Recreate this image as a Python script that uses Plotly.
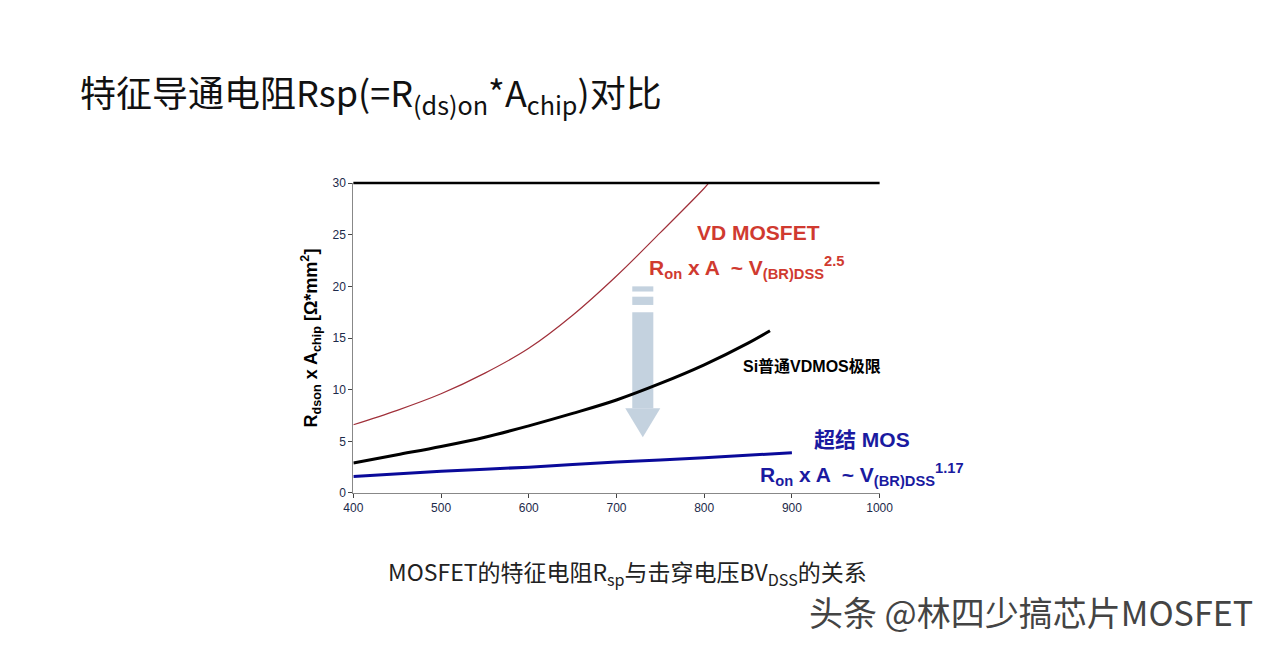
import plotly.graph_objects as go

volts_red = [400, 450, 500, 550, 600, 650, 700, 750, 800, 805]
red = [6.6, 8.0, 9.6, 11.6, 14.0, 17.2, 21.0, 25.2, 29.5, 30.0]
volts_black = [400, 450, 500, 550, 600, 650, 700, 750, 800, 850, 875]
black = [2.9, 3.7, 4.5, 5.4, 6.5, 7.7, 9.0, 10.6, 12.4, 14.5, 15.7]
volts_blue = [400, 500, 600, 700, 800, 900]
blue = [1.6, 2.1, 2.5, 3.0, 3.4, 3.9]
xticks = [400, 500, 600, 700, 800, 900, 1000]
yticks = [0, 5, 10, 15, 20, 25, 30]

F = "Liberation Sans, Arial, Noto Sans CJK SC"
fig = go.Figure()
fig.add_trace(go.Scatter(x=volts_red, y=red, mode="lines", line=dict(color="#a0303a", width=1.2, shape="spline")))
fig.add_trace(go.Scatter(x=volts_black, y=black, mode="lines", line=dict(color="black", width=3, shape="spline")))
fig.add_trace(go.Scatter(x=volts_blue, y=blue, mode="lines", line=dict(color="#0a0a9a", width=3, shape="spline")))

ann = []
def A(x, y, t, size, color, **k):
    d = dict(x=x, y=y, text=t, showarrow=False, font=dict(family=F, size=size, color=color))
    d.update(k); ann.append(d)

A(862, 25.2, "<b>VD MOSFET</b>", 21, "#d03a30")
A(848, 21.8, "<b>R<sub>on</sub> x A  ~ V<sub>(BR)DSS</sub><sup>2.5</sup></b>", 21, "#d03a30")
A(842, 12.3, "<b>Si普通VDMOS极限</b>", 16, "black", xanchor="left")
A(980, 5.2, "<b>超结 MOS</b>", 21, "#1a1aa0")
A(980, 1.8, "<b>R<sub>on</sub> x A  ~ V<sub>(BR)DSS</sub><sup>1.17</sup></b>", 21, "#1a1aa0")
A(950, -4.0, "<b>电压</b>", 15, "black", xanchor="right")
ann.append(dict(xref="paper", yref="paper", x=0.048, y=0.925, xanchor="left", showarrow=False,
                text="特征导通电阻Rsp(=R<sub>(ds)on</sub>*A<sub>chip</sub>)对比", font=dict(family="Noto Sans CJK SC", size=36, color="#111")))
ann.append(dict(xref="paper", yref="paper", x=0.485, y=0.095, showarrow=False,
                text="MOSFET的特征电阻R<sub>sp</sub>与击穿电压BV<sub>DSS</sub>的关系", font=dict(family="Noto Sans CJK SC", size=23, color="#222")))
ann.append(dict(xref="paper", yref="paper", x=0.985, y=0.025, xanchor="right", showarrow=False,
                text="头条 @林四少搞芯片MOSFET", font=dict(family="Noto Sans CJK SC", size=34, color="#444")))

fig.update_layout(
    width=1280, height=653, margin=dict(l=0, r=0, t=0, b=0),
    paper_bgcolor="white", plot_bgcolor="white", showlegend=False, annotations=ann,
    xaxis=dict(domain=[0.267, 0.686], range=[400, 1000], tickvals=xticks, ticks="outside", ticklen=4,
               showgrid=False, zeroline=False, showline=True, linecolor="#888",
               tickfont=dict(family=F, size=12, color="#1c2a4a"), tickprefix="<b>", ticksuffix="</b>"),
    yaxis=dict(domain=[0.252, 0.737], range=[0, 30], tickvals=yticks, ticks="outside", ticklen=4,
               showgrid=False, zeroline=False, showline=True, linecolor="#888",
               tickfont=dict(family=F, size=12, color="#1c2a4a"), tickprefix="<b>", ticksuffix="</b>",
               title=dict(text="<b>R<sub>dson</sub> x A<sub>chip</sub> [Ω*mm<sup>2</sup>]</b>", font=dict(family=F, size=18, color="black"), standoff=10)),
)
arrow = "rgba(190,205,220,0.9)"
fig.add_shape(type="rect", xref="x", yref="y", x0=718, x1=742, y0=8.2, y1=17.5, fillcolor=arrow, line_width=0, layer="below")
fig.add_shape(type="rect", xref="x", yref="y", x0=718, x1=742, y0=18.2, y1=19.0, fillcolor=arrow, line_width=0, layer="below")
fig.add_shape(type="rect", xref="x", yref="y", x0=718, x1=742, y0=19.5, y1=20.0, fillcolor=arrow, line_width=0, layer="below")
fig.add_shape(type="path", xref="x", yref="y", path="M 710 8.2 L 750 8.2 L 730 5.4 Z", fillcolor=arrow, line_width=0, layer="below")
fig.add_shape(type="line", xref="paper", yref="paper", x0=0.267, x1=0.686, y0=0.737, y1=0.737, line=dict(color="black", width=2.5))
fig.write_html("out.html")
